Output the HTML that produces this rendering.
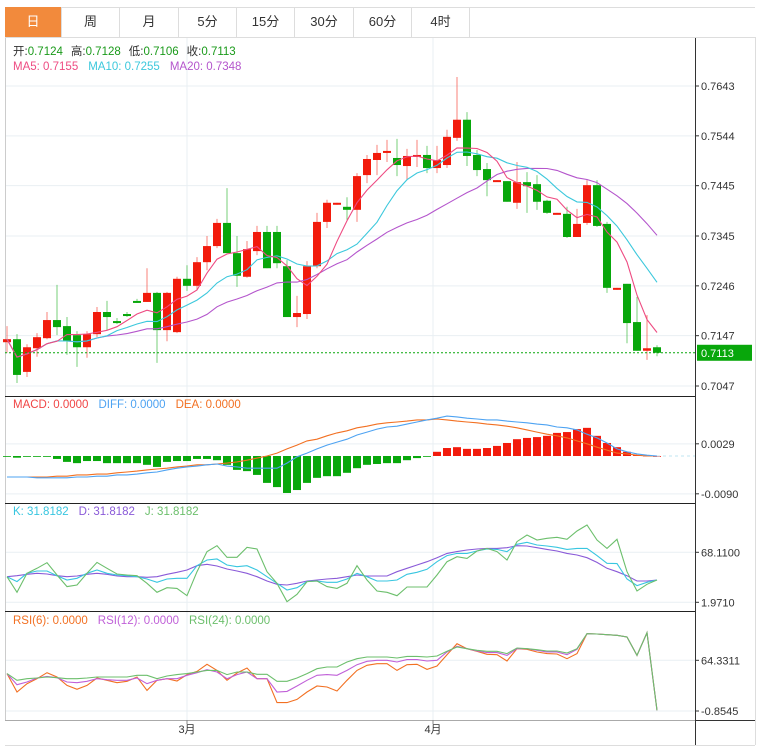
<!DOCTYPE html>
<html><head><meta charset="utf-8">
<style>
html,body{margin:0;padding:0;background:#fff;}
body{width:761px;height:755px;overflow:hidden;position:relative;font-family:"Liberation Sans","Noto Sans CJK SC",sans-serif;}
.tab{position:absolute;top:7px;height:30px;line-height:30px;text-align:center;font-size:13px;color:#333;border-right:1px solid #ddd;box-sizing:border-box;}
</style></head><body>
<div style="position:absolute;left:5px;top:7px;width:750px;height:30px;border-top:1px solid #ddd;box-sizing:border-box;"></div>
<div class="tab" style="left:5px;width:57px;background:#f28a3c;color:#fff;">日</div>
<div class="tab" style="left:62px;width:58px;">周</div>
<div class="tab" style="left:120px;width:59px;">月</div>
<div class="tab" style="left:179px;width:58px;">5分</div>
<div class="tab" style="left:237px;width:58px;">15分</div>
<div class="tab" style="left:295px;width:59px;">30分</div>
<div class="tab" style="left:354px;width:58px;">60分</div>
<div class="tab" style="left:412px;width:58px;">4时</div>
<svg id="c" width="761" height="755" style="position:absolute;left:0;top:0;font-family:'Liberation Sans','Noto Sans CJK SC',sans-serif;"></svg>
<script>
const open=[.7134,.7140,.7075,.7122,.7142,.7178,.7166,.7148,.7124,.7150,.7194,.7176,.7190,.7216,.7214,.7232,.7158,.7154,.7260,.7246,.7293,.7325,.7371,.7311,.7264,.7315,.7353,.7353,.7285,.7184,.7190,.7285,.7373,.7409,.7403,.7397,.7466,.7496,.7510,.7500,.7484,.7502,.7506,.7480,.7486,.7540,.7576,.7506,.7478,.7454,.7454,.7411,.7452,.7448,.7415,.7389,.7389,.7343,.7371,.7446,.7369,.7240,.7250,.7174,.7117,.7124];
const high=[.7166,.7150,.7130,.7152,.7194,.7248,.7184,.7156,.7156,.7204,.7216,.7182,.7194,.7220,.7281,.7234,.7234,.7264,.7287,.7303,.7345,.7379,.7440,.7345,.7335,.7365,.7365,.7365,.7297,.7226,.7295,.7391,.7417,.7411,.7422,.7470,.7506,.7526,.7536,.7538,.7518,.7536,.7524,.7524,.7556,.7661,.7591,.7516,.7490,.7456,.7454,.7492,.7472,.7466,.7417,.7391,.7403,.7399,.7456,.7456,.7373,.7242,.7250,.7224,.7188,.7128];
const low=[.7113,.7053,.7065,.7105,.7140,.7148,.7109,.7085,.7103,.7144,.7158,.7170,.7184,.7212,.7214,.7093,.7136,.7152,.7236,.7238,.7277,.7321,.7311,.7244,.7262,.7307,.7281,.7281,.7184,.7164,.7180,.7281,.7361,.7407,.7377,.7373,.7450,.7466,.7492,.7464,.7456,.7482,.7470,.7470,.7480,.7534,.7484,.7464,.7424,.7454,.7413,.7399,.7391,.7397,.7389,.7389,.7341,.7343,.7367,.7363,.7232,.7238,.7132,.7117,.7099,.7106];
const close=[.7140,.7069,.7124,.7144,.7178,.7164,.7136,.7124,.7150,.7194,.7184,.7172,.7186,.7214,.7232,.7158,.7232,.7260,.7246,.7293,.7325,.7371,.7311,.7266,.7319,.7353,.7281,.7291,.7184,.7192,.7285,.7373,.7411,.7411,.7397,.7464,.7498,.7510,.7514,.7486,.7504,.7506,.7480,.7496,.7542,.7576,.7504,.7476,.7456,.7456,.7413,.7452,.7444,.7413,.7391,.7391,.7343,.7369,.7446,.7365,.7242,.7242,.7172,.7117,.7122,.7113];
const priceTicks=[0.7643,0.7544,0.7445,0.7345,0.7246,0.7147,0.7047];
const macdHist=[-.0001,-.0004,-.0001,-.0001,-.0001,-.0007,-.0014,-.0017,-.0012,-.0012,-.0017,-.0017,-.0017,-.0017,-.0021,-.0026,-.0014,-.0012,-.0012,-.0007,-.0007,-.0010,-.0021,-.0033,-.0036,-.0045,-.0064,-.0074,-.0088,-.0081,-.0064,-.0052,-.0048,-.0048,-.0040,-.0029,-.0021,-.0019,-.0017,-.0017,-.0010,-.0005,-.0001,.0010,.0019,.0021,.0017,.0017,.0019,.0024,.0031,.0040,.0043,.0045,.0048,.0055,.0057,.0064,.0067,.0048,.0031,.0021,.0010,.0002,.0001,0];
const dea=[-.0050,-.0050,-.0050,-.0050,-.0050,-.0048,-.0048,-.0045,-.0045,-.0043,-.0043,-.0040,-.0038,-.0036,-.0033,-.0031,-.0029,-.0026,-.0024,-.0021,-.0021,-.0019,-.0017,-.0014,-.0010,-.0005,0,.0007,.0017,.0026,.0036,.0040,.0048,.0055,.0060,.0067,.0071,.0076,.0079,.0081,.0083,.0086,.0086,.0088,.0086,.0083,.0081,.0079,.0076,.0074,.0071,.0067,.0062,.0057,.0052,.0048,.0043,.0036,.0029,.0021,.0014,.0007,.0005,.0002,0,0];
const diff=[-.0050,-.0050,-.0050,-.0052,-.0052,-.0052,-.0052,-.0050,-.0050,-.0048,-.0048,-.0045,-.0045,-.0043,-.0040,-.0038,-.0033,-.0029,-.0026,-.0024,-.0021,-.0019,-.0024,-.0026,-.0029,-.0029,-.0029,-.0029,-.0017,-.0002,.0007,.0017,.0026,.0033,.0040,.0050,.0057,.0064,.0069,.0071,.0076,.0081,.0086,.0090,.0095,.0093,.0090,.0088,.0086,.0086,.0083,.0081,.0079,.0076,.0074,.0069,.0067,.0062,.0052,.0043,.0031,.0017,.0010,.0005,.0002,0];
const macdTicks=[0.0029,-0.0090];
const kVal=[35.9,29.3,40.3,43.4,43.4,37.2,31.5,33.7,40.3,44.7,40.3,38.1,37.2,35.9,32.8,28.4,32.8,33.7,33.7,50.4,57.9,59.3,51.3,49.1,50.4,44.7,35.9,27.1,18.2,21.3,29.3,30.2,28.4,28.4,32.8,40.3,35.9,30.2,30.2,31.5,39.0,41.6,45.6,55.7,63.7,66.7,66.7,69.8,72.5,72.0,69.0,78.7,81.3,77.8,76.5,74.7,72.0,73.3,73.3,63.7,53.5,53.1,32.8,24.0,28.4,31.5];
const dVal=[35.9,37.2,39.0,40.3,39.4,37.2,35.9,36.8,39.0,40.3,39.0,36.8,35.9,35.9,35.0,35.9,39.0,41.6,44.7,50.4,52.2,50.0,46.0,43.4,40.3,35.9,30.2,25.8,24.9,27.1,30.2,31.5,32.8,33.7,35.9,38.1,36.8,36.8,36.8,42.5,46.9,51.3,55.7,61.0,66.7,69.0,71.2,72.5,73.3,73.3,74.2,76.9,76.5,74.2,72.0,69.8,66.7,64.5,61.0,54.8,46.9,42.5,37.2,30.2,30.2,31.5];
const jVal=[35.9,15.2,40.3,46.9,54.4,38.1,22.7,24.9,40.3,54.8,46.9,39.4,38.1,37.2,27.1,15.2,21.3,20.4,10.7,42.5,69.0,76.9,61.5,61.5,74.7,72.5,42.5,27.1,2.8,12.5,29.3,30.2,22.7,20.4,27.1,50.4,31.5,16.9,15.2,10.7,22.2,22.2,22.2,38.1,55.7,62.3,60.1,69.8,73.3,69.0,57.9,82.2,91.0,84.4,86.6,87.9,85.3,96.3,104.2,84.4,73.3,85.3,42.5,16.9,25.8,31.5];
const kdjTicks=[68.1100,1.9710];
const rsi6=[47.2,23.6,34.3,40.7,48.4,42.9,32.1,27.0,32.1,41.6,38.6,35.6,37.3,42.9,25.7,38.6,40.7,37.7,45.9,50.1,59.2,51.4,38.6,48.0,54.4,40.7,40.7,9.9,9.9,14.1,23.6,31.3,30.0,24.9,38.6,51.4,57.9,60.0,60.0,51.4,58.7,59.2,52.7,57.0,71.6,85.7,79.3,75.9,72.0,71.6,63.4,79.3,78.5,75.0,72.9,72.4,66.4,72.9,98.6,98.2,97.3,96.5,94.3,70.7,99.9,0];
const rsi12=[47.2,33.0,36.4,41.6,43.7,42.0,36.4,35.6,37.3,40.7,39.4,38.6,38.6,41.6,34.3,38.6,40.7,40.7,45.0,48.4,52.3,49.3,40.7,45.9,49.3,40.7,40.7,23.6,24.4,31.3,38.6,45.0,45.9,45.0,51.4,58.7,63.0,64.3,64.3,62.2,65.2,65.2,63.4,64.3,75.0,82.3,79.3,76.3,74.2,74.2,70.7,79.3,79.3,77.2,75.0,75.0,71.6,78.5,98.6,98.2,97.3,96.5,94.3,70.7,99.9,0];
const rsi24=[47.2,38.6,40.7,41.6,42.9,42.0,40.7,40.7,41.6,42.9,42.9,42.9,42.9,45.0,45.0,40.7,44.1,45.9,47.2,49.3,51.4,51.4,45.9,49.3,49.3,46.3,46.3,37.3,37.3,41.6,47.2,53.6,55.7,55.7,62.2,66.4,68.6,68.6,68.6,67.3,69.4,69.4,68.6,69.9,75.9,81.4,79.3,77.2,75.9,75.9,72.9,80.2,79.3,78.0,76.3,76.3,73.7,79.3,98.6,98.2,97.3,96.5,94.3,70.7,99.9,0];
const rsiTicks=[64.3311,-0.8545];
const timeLabels=['3月','4月'];
const timeLabelIdx=[18,42.6];

const svg=document.getElementById('c');
const NS='http://www.w3.org/2000/svg';
function el(tag,attrs,parent){const e=document.createElementNS(NS,tag);for(const k in attrs)e.setAttribute(k,attrs[k]);(parent||svg).appendChild(e);return e;}
const RED='#f21b0c',GREEN='#08a70b';
const X=i=>7+10*i;
const yP=p=>386-(p-0.7047)/(0.7643-0.7047)*300;
const yM=v=>456-v/0.000238;
const yK=v=>602.3-(v-1.971)/1.3228;
const yR=v=>711-(v+0.8545)/1.286;

// frame & grid
const grid=el('g',{stroke:'#e9eff3','stroke-width':1});


priceTicks.forEach(t=>el('line',{x1:5,x2:695,y1:yP(t),y2:yP(t)},grid));
macdTicks.forEach(t=>el('line',{x1:5,x2:695,y1:yM(t),y2:yM(t)},grid));
kdjTicks.forEach(t=>el('line',{x1:5,x2:695,y1:yK(t),y2:yK(t)},grid));
rsiTicks.forEach(t=>el('line',{x1:5,x2:695,y1:yR(t),y2:yR(t)},grid));
timeLabelIdx.forEach(i=>el('line',{x1:X(i),x2:X(i),y1:37,y2:720},grid));
el('line',{x1:5.5,x2:5.5,y1:37,y2:720,stroke:'#ccc'});
el('line',{x1:695.5,x2:695.5,y1:37,y2:745,stroke:'#333'});
el('line',{x1:755.5,x2:755.5,y1:37,y2:745,stroke:'#ddd'});
el('line',{x1:5,x2:755,y1:745.5,y2:745.5,stroke:'#ddd'});
el('line',{x1:5,x2:755,y1:37.5,y2:37.5,stroke:'#ddd'});
[396,503,611].forEach(y=>el('line',{x1:5,x2:695,y1:y+.5,y2:y+.5,stroke:'#222'}));
el('line',{x1:5,x2:695,y1:720.5,y2:720.5,stroke:'#aaa'});
el('line',{x1:695,x2:755,y1:720.5,y2:720.5,stroke:'#333'});

function axisLabel(v,y,txt){el('line',{x1:695,x2:699,y1:y,y2:y,stroke:'#333'});const t=el('text',{x:701,y:y+4,'font-size':11,fill:'#333'});t.textContent=txt;return t;}
priceTicks.forEach(t=>{const e=axisLabel(t,yP(t),t.toFixed(4));});
macdTicks.forEach(t=>{const e=axisLabel(t,yM(t),t.toFixed(4));});
kdjTicks.forEach(t=>{const e=axisLabel(t,yK(t),t.toFixed(4));});
rsiTicks.forEach(t=>{const e=axisLabel(t,yR(t),t.toFixed(4));});
timeLabels.forEach((s,k)=>{el('line',{x1:X(timeLabelIdx[k]),x2:X(timeLabelIdx[k]),y1:720,y2:724,stroke:'#888'});const t=el('text',{x:X(timeLabelIdx[k]),y:733,'font-size':11,fill:'#333','text-anchor':'middle'});t.textContent=s;});

// candles
const cg=el('g',{});


close.forEach((c,i)=>{
  const up=c>=open[i];const col=up?RED:GREEN;
  const w=el('line',{x1:X(i),x2:X(i),y1:yP(high[i]),y2:yP(low[i]),stroke:col,'stroke-opacity':0.55},cg);
  
  
  const t=Math.min(yP(open[i]),yP(c)),h=Math.max(2,Math.abs(yP(open[i])-yP(c)));
  const b=el('rect',{x:X(i)-4,y:t,width:8,height:h,fill:col},cg);
  
  
});
function ma(n){return close.map((_,i)=>{const s=Math.max(0,i-n+1);let a=0;for(let j=s;j<=i;j++)a+=close[j];return a/(i-s+1);});}
function line(vals,fy,col,name){const p=vals.map((v,i)=>X(i)+','+fy(v).toFixed(1)).join(' ');const e=el('polyline',{points:p,fill:'none',stroke:col,'stroke-width':1.1});return e;}
line(ma(20),yP,'#b455cc','ma20-line');
line(ma(10),yP,'#3cc8dc','ma10-line');
line(ma(5),yP,'#ee4b82','ma5-line');
const last=close[close.length-1];
const pl=el('line',{x1:5,x2:695,y1:yP(last),y2:yP(last),stroke:GREEN,'stroke-dasharray':'2,2'});


const lb=el('rect',{x:697,y:yP(last)-8,width:55,height:16,fill:GREEN});


const lt=el('text',{x:701,y:yP(last)+4,'font-size':11,fill:'#fff'});lt.textContent=last.toFixed(4);

// macd
const hg=el('g',{});


macdHist.forEach((v,i)=>{const y0=yM(0),y1=yM(v);const r=el('rect',{x:X(i)-4,y:Math.min(y0,y1),width:8,height:Math.max(0.8,Math.abs(y1-y0)),fill:v>=0?RED:GREEN},hg);});
line(dea,yM,'#f27022','dea-line');
line(diff,yM,'#4ea3f2','diff-line');
el('line',{x1:657,x2:695,y1:yM(0),y2:yM(0),stroke:'#bfe6f2','stroke-dasharray':'3,3'});

// kdj
line(dVal,yK,'#8a5ad8','kdj-d-line');
line(kVal,yK,'#38c6e0','kdj-k-line');
line(jVal,yK,'#6cbf6c','kdj-j-line');
// rsi
line(rsi6,yR,'#f27022','rsi6-line');
line(rsi12,yR,'#c060d8','rsi12-line');
line(rsi24,yR,'#6cbf6c','rsi24-line');

// legends
function legend(x,y,parts,name){const t=el('text',{x:x,y:y,'font-size':11.5});parts.forEach(([s,c,dx])=>{const sp=el('tspan',{fill:c},t);if(dx)sp.setAttribute('dx',dx);sp.textContent=s;});}
legend(13,55,[['开:','#333'],['0.7124','#1a9a1a'],['高:','#333',8],['0.7128','#1a9a1a'],['低:','#333',8],['0.7106','#1a9a1a'],['收:','#333',8],['0.7113','#1a9a1a']],'ohlc-legend');
legend(13,70,[['MA5: 0.7155','#ee4b82'],['MA10: 0.7255','#3cc8dc',10],['MA20: 0.7348','#b455cc',10]],'ma-legend');
legend(13,408,[['MACD: 0.0000','#f04545'],['DIFF: 0.0000','#4ea3f2',10],['DEA: 0.0000','#f27022',10]],'macd-legend');
legend(13,515,[['K: 31.8182','#38c6e0'],['D: 31.8182','#8a5ad8',10],['J: 31.8182','#6cbf6c',10]],'kdj-legend');
legend(13,624,[['RSI(6): 0.0000','#f27022'],['RSI(12): 0.0000','#c060d8',10],['RSI(24): 0.0000','#6cbf6c',10]],'rsi-legend');
</script>
</body></html>
